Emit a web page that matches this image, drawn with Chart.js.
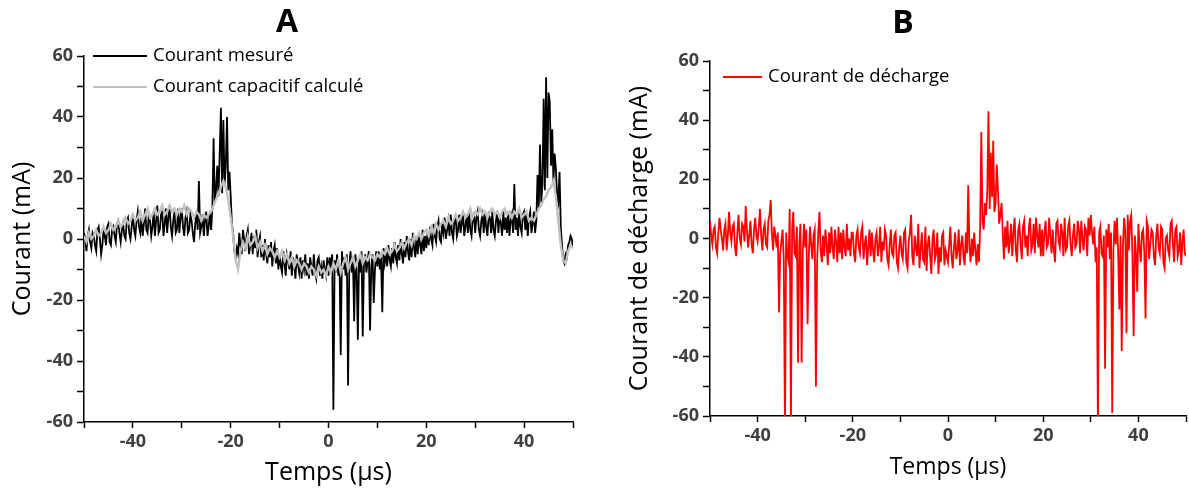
<!DOCTYPE html>
<html lang="fr">
<head>
<meta charset="UTF-8">
<title>Courant mesuré et courant de décharge</title>
<script src="https://cdn.jsdelivr.net/npm/chart.js"></script>
<style>
  body { margin: 0; background: #fff; width: 1189px; height: 495px; position: relative; overflow: hidden; }
  canvas { position: absolute; top: 0; }
  #grapheA { left: 0; }
  #grapheB { left: 617px; }
</style>
</head>
<body>
<canvas id="grapheA" width="576" height="495"></canvas>
<canvas id="grapheB" width="572" height="495"></canvas>

<script>
// oscillogrammes de -50 µs à 50 µs
const debutTemps = -50;
const pasMesure = 0.25;      // µs entre deux valeurs
const pasCapacitif = 0.5;
const pasDecharge = 0.25;

const etiquettesTemps = [-40, -20, 0, 20, 40];
const etiquettesCourant = [-60, -40, -20, 0, 20, 40, 60];

// A - courant mesuré (mA), une ligne = 10 µs
const courantMesure = [
  2, 0, -4, 1, 3, -1, -3, 2, 1, -2, -4, 3, 4, 0, -5, -2, 3, 1, -2, 4, 5, -1, -2, 3, 4, 1, -1, 5, 6, 2, -1, 3, 5, 1, 0, 6, 7, 2, 0, 4,
  8, 3, 1, 6, 9, 4, 2, 7, 1, 5, 10, 3, 2, 8, 6, 1, 4, 9, 1, 6, 11, 2, 3, 8, 9, 1, 5, 10, 2, 7, 11, 4, 1, 6, 9, 2, 3, 10, 2, 7,
  10, 4, 1, 7, 9, 2, 3, 8, 6, 2, -1, 5, 9, 3, 19, 2, 4, 8, 1, 6, 9, 1, 4, 9, 3, 10, 33, 12, 16, 24, 14, 28, 43, 15, 39, 18, 24, 40, 16, 22,
  14, 5, 2, -4, -6, -3, -5, 2, -2, -5, 3, 0, -4, 1, 3, -5, -2, 2, -5, 1, -3, 3, -6, -1, 1, -6, -2, -7, 0, -5, -8, -2, -6, -1, -9, -4, -2, -8, -3, -10,
  -5, -9, -11, -4, -8, -12, -5, -7, -10, -4, -12, -6, -9, -13, -5, -8, -11, -6, -13, -7, -10, -5, -12, -8, -13, -6, -9, -12, -5, -11, -13, -7, -6, -12, -9, -13, -7, -10, -12, -6,
  -12, -6, -9, -5, -56, -7, -11, -5, -12, -8, -38, -4, -10, -6, -12, -5, -48, -9, -4, -11, -7, -27, -5, -10, -33, -6, -11, -4, -32, -8, -5, -11, -7, -4, -30, -9, -5, -21, -10, -4,
  -9, -4, -10, -6, -24, -3, -8, -5, -9, -2, -7, -9, -3, -8, -1, -6, -8, -2, -7, 0, -5, -8, -1, -6, 1, -4, -7, 0, -6, 2, -3, -6, 1, -5, 2, -2, -5, 3, -4, 1,
  -3, 2, -2, 4, 0, -2, 5, 1, -1, 4, 6, 0, -1, 5, 2, 7, 0, 3, 6, 1, 8, 2, 0, 6, 7, 1, 3, 8, 2, 5, 9, 1, 4, 8, 2, 9, 3, 1, 7, 8,
  2, 7, 9, 3, 1, 6, 8, 2, 9, 4, 1, 8, 7, 2, 9, 3, 1, 6, 9, 2, 8, 5, 1, 9, 3, 7, 2, 9, 1, 6, 8, 2, 18, 3, 7, 1, 9, 4, 2, 8,
  9, 3, 8, 1, 7, 9, 2, 5, 9, 2, 6, 21, 10, 31, 12, 18, 46, 16, 53, 20, 48, 45, 24, 36, 19, 28, 23, 14, 12, 22, 4, -2, -7, -8, -5, -6, -2, -1, 1, 0,
  -3
];

// A - courant capacitif calculé (mA), une ligne = 10 µs
const courantCapacitif = [
  1, -1, 2, 0, 1, 3, 1, 2, 4, 2, 3, 5, 3, 4, 6, 4, 5, 7, 5, 6,
  8, 6, 7, 9, 6, 8, 10, 7, 8, 10, 8, 9, 11, 8, 9, 11, 9, 10, 8, 10,
  9, 11, 8, 10, 9, 7, 9, 8, 6, 8, 7, 8, 9, 11, 13, 15, 17, 19, 17, 13,
  7, 1, -7, -10, -4, -1, -3, 1, -2, -1, 1, -3, -1, -4, -2, -5, -3, -4, -6, -4,
  -6, -4, -7, -5, -8, -6, -9, -7, -8, -10, -8, -9, -11, -9, -10, -12, -9, -11, -10, -12,
  -9, -11, -8, -10, -7, -11, -8, -6, -10, -8, -6, -9, -7, -5, -8, -6, -7, -5, -6, -7,
  -5, -6, -4, -5, -3, -5, -4, -2, -4, -3, -1, -3, -1, 0, -2, 1, 0, 2, 0, 2,
  3, 1, 4, 2, 5, 3, 5, 6, 4, 7, 5, 6, 8, 6, 7, 9, 7, 8, 10, 7,
  9, 8, 10, 8, 9, 7, 9, 10, 8, 9, 7, 9, 10, 8, 9, 7, 9, 8, 10, 7,
  8, 9, 6, 7, 6, 8, 10, 11, 13, 14, 16, 17, 19, 14, 6, -2, -7, -8, -4, -2,
  -3
];

// B - courant de décharge (mA), une ligne = 10 µs
const courantDecharge = [
  6, 1, -2, 3, 4, -3, -5, 2, 7, 3, 0, -4, 3, 5, -4, 1, 9, 2, -1, 4, 5, -3, -6, 2, 8, 0, -2, 5, 4, -1, 11, 3, -3, 1, 6, -2, -5, 3, 7, 1,
  -1, 4, 10, 1, -4, 3, 5, -2, -3, 6, 8, 13, 2, -4, 4, 1, -3, 2, -25, -5, -1, 3, -7, -65, 2, -6, -8, 10, -65, 3, 9, -5, -6, 4, -42, -2, 5, -42, -4, 5,
  -3, 3, -29, -6, 4, -2, -7, 1, 3, -50, -8, 2, 9, -4, -8, 1, -6, 3, -2, -9, 2, -5, 4, -3, -7, 3, -1, -8, 4, -5, 2, -7, 3, -3, -6, 5, -4, 0, -6, 2,
  2, -5, -8, 1, 3, -3, -5, 2, 4, -7, -2, 1, -9, -3, 3, -6, 2, -4, -8, 0, 2, -6, -3, 4, -8, -1, -4, 3, 1, -7, -9, -2, 3, -5, -6, 1, 2, -8, -10, -3,
  1, -5, -7, 2, 3, -8, -10, -1, 2, 8, -6, -9, 1, -3, -6, 5, -10, -4, 2, -7, -8, 4, -11, -2, 1, -6, -12, 0, 3, -7, -5, 2, -12, -3, -8, 1, 2, -9, -4, -6,
  -8, -2, 4, -6, -10, -3, 2, -7, -4, 3, -9, -2, 1, -6, -9, 2, -5, 18, -3, -8, 0, -6, 2, -4, -9, -2, -8, 4, 36, 6, 3, 12, 8, 16, 43, 10, 29, 14, 33, 9,
  12, 25, 16, 5, 8, 12, 2, -7, 4, -3, 6, -5, -1, 5, -6, 2, 7, -4, -8, 3, 5, -2, -7, 4, 6, -3, 1, -6, 4, 7, -4, -2, 5, -5, 7, 1, -3, 5, -6, 3,
  -6, 2, 6, -3, -2, 7, 1, -5, 3, -4, -8, 5, 6, -1, -3, 5, 2, -6, 7, -4, -3, 4, 6, -2, -6, 1, 5, -3, -2, 6, 3, -5, 6, 0, -4, 4, 3, -6, 7, 1,
  8, 2, -2, 4, -8, -3, -65, 2, 4, -5, -6, 1, -44, 3, -3, 5, -7, 2, -59, -4, 6, -2, 7, -5, -24, 1, -38, -3, 7, 2, -32, 8, -4, 6, 8, -6, -33, 1, -5, -18,
  5, -3, -8, 2, 3, -5, -27, 6, 4, -7, -2, 3, 2, -6, -9, 1, 5, -3, -5, 4, 3, -8, -10, 0, 1, -4, -6, 5, 6, -2, -8, 3, 4, -6, -4, 2, -9, -1, 3, -5,
  -6
];

function points(valeurs, pas) {
  return valeurs.map((y, i) => ({ x: debutTemps + i * pas, y: y }));
}

const police = "'Open Sans', sans-serif";

// légende tracée à l'intérieur du graphe
const legendeInterne = {
  id: 'legendeInterne',
  afterDraw(chart, args, opts) {
    const ctx = chart.ctx;
    const zone = chart.chartArea;
    ctx.save();
    ctx.font = opts.taille + 'px ' + police;
    ctx.textBaseline = 'middle';
    opts.ordre.forEach((idx, i) => {
      const ds = chart.data.datasets[idx];
      const y = zone.top + opts.dy + i * opts.ecart;
      const x0 = zone.left + opts.dx;
      ctx.strokeStyle = ds.borderColor;
      ctx.lineWidth = 2;
      ctx.beginPath();
      ctx.moveTo(x0, y);
      ctx.lineTo(x0 + opts.longueur, y);
      ctx.stroke();
      ctx.fillStyle = '#000';
      ctx.fillText(ds.label, x0 + opts.longueur + 6, y);
    });
    ctx.restore();
  }
};

function axes(p) {
  const graduations = { color: '#404040', font: { family: police, size: 18, weight: 'bold' } };
  return {
    x: {
      type: 'linear', min: -50, max: 50,
      afterFit: s => { s.height = p.hauteurX; },
      border: { color: '#000', width: 1.5 },
      grid: { drawOnChartArea: false, tickLength: 6, tickColor: '#000', tickWidth: 1.5 },
      ticks: Object.assign({ stepSize: 10, autoSkip: false, maxRotation: 0, padding: 3,
        callback: v => etiquettesTemps.includes(v) ? v : '' }, graduations),
      title: { display: true, text: 'Temps (µs)', color: '#000',
        font: { family: police, size: p.tailleTitreX }, padding: { top: 0, bottom: p.basTitreX } }
    },
    y: {
      min: -60, max: 60,
      afterFit: s => { s.width = p.largeurY; },
      border: { color: '#000', width: 1.5 },
      grid: { drawOnChartArea: false, tickLength: 7, tickColor: '#000', tickWidth: 1.5 },
      ticks: Object.assign({ stepSize: 10, autoSkip: false, padding: 4,
        callback: v => etiquettesCourant.includes(v) ? v : '' }, graduations),
      title: { display: true, text: p.titreY, color: '#000',
        font: { family: police, size: 25 }, padding: { top: p.margeTitreY, bottom: 0 } }
    }
  };
}

const grapheA = new Chart(document.getElementById('grapheA'), {
  type: 'line',
  data: {
    datasets: [
      { label: 'Courant capacitif calculé', data: points(courantCapacitif, pasCapacitif),
        borderColor: '#c0c0c0', borderWidth: 2.4 },
      { label: 'Courant mesuré', data: points(courantMesure, pasMesure),
        borderColor: '#000000', borderWidth: 1.8 }
    ]
  },
  options: {
    responsive: false, animation: false, devicePixelRatio: 1,
    elements: { point: { radius: 0 }, line: { tension: 0 } },
    layout: { padding: { left: 0, right: 2, top: 0, bottom: 0 } },
    scales: axes({ hauteurX: 73, largeurY: 84, tailleTitreX: 25, basTitreX: 7,
      titreY: 'Courant (mA)', margeTitreY: 8 }),
    plugins: {
      legend: { display: false },
      tooltip: { enabled: false },
      title: { display: true, text: 'A', color: '#000',
        font: { family: police, size: 32, weight: 'bold' }, padding: { top: 3.6, bottom: 14 } },
      legendeInterne: { ordre: [1, 0], dx: 9, dy: 0, ecart: 31, longueur: 54, taille: 18.5 }
    }
  },
  plugins: [legendeInterne]
});

const grapheB = new Chart(document.getElementById('grapheB'), {
  type: 'line',
  data: {
    datasets: [
      { label: 'Courant de décharge', data: points(courantDecharge, pasDecharge),
        borderColor: '#ff0000', borderWidth: 1.8 }
    ]
  },
  options: {
    responsive: false, animation: false, devicePixelRatio: 1,
    elements: { point: { radius: 0 }, line: { tension: 0 } },
    layout: { padding: 0 },
    scales: axes({ hauteurX: 79, largeurY: 93, tailleTitreX: 23, basTitreX: 14,
      titreY: 'Courant de décharge (mA)', margeTitreY: 8 }),
    plugins: {
      legend: { display: false },
      tooltip: { enabled: false },
      title: { display: true, text: 'B', color: '#000',
        font: { family: police, size: 32, weight: 'bold' }, padding: { top: 4.6, bottom: 18 } },
      legendeInterne: { ordre: [0], dx: 13, dy: 16, ecart: 30, longueur: 39, taille: 18.5 }
    }
  },
  plugins: [legendeInterne]
});
</script>
</body>
</html>
